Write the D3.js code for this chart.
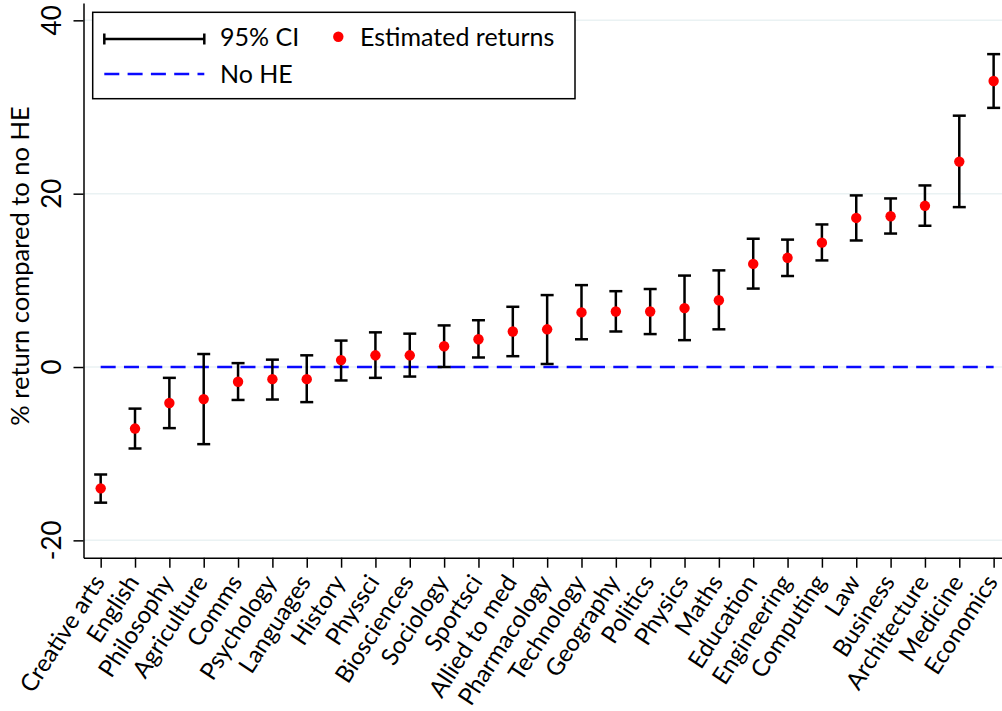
<!DOCTYPE html>
<html>
<head>
<meta charset="utf-8">
<script src="https://cdn.jsdelivr.net/npm/d3@7"></script>
<style>
  body { margin: 0; background: #fff; }
  text { font-family: Lato, "Open Sans", sans-serif; fill: #000; }
</style>
</head>
<body>
<div id="chart"></div>
<script>
var subjects = ["Creative arts", "English", "Philosophy", "Agriculture", "Comms", "Psychology",
  "Languages", "History", "Physsci", "Biosciences", "Sociology", "Sportsci", "Allied to med",
  "Pharmacology", "Technology", "Geography", "Politics", "Physics", "Maths", "Education",
  "Engineering", "Computing", "Law", "Business", "Architecture", "Medicine", "Economics"];

var estimates = [-14.0, -7.1, -4.15, -3.7, -1.7, -1.4, -1.4, 0.8, 1.35, 1.35, 2.4, 3.2, 4.1,
  4.35, 6.3, 6.4, 6.4, 6.8, 7.7, 11.9, 12.6, 14.35, 17.2, 17.4, 18.6, 23.7, 33.0];

var ciLow = [-15.65, -9.4, -7.05, -8.9, -3.8, -3.75, -4.05, -1.55, -1.25, -1.1, 0.0, 1.1, 1.25,
  0.35, 3.2, 4.1, 3.8, 3.1, 4.35, 9.05, 10.5, 12.3, 14.6, 15.4, 16.3, 18.45, 29.9];

var ciHigh = [-12.4, -4.8, -1.25, 1.5, 0.45, 0.85, 1.35, 3.05, 4.0, 3.85, 4.8, 5.4, 6.95,
  8.3, 9.45, 8.75, 9.0, 10.55, 11.15, 14.8, 14.7, 16.45, 19.8, 19.45, 20.95, 29.0, 36.1];

var yTicks = [-20, 0, 20, 40];

var width = 1002, height = 711;

var svg = d3.select("#chart").append("svg")
    .attr("width", width)
    .attr("height", height);

svg.append("rect").attr("width", width).attr("height", height).attr("fill", "#fff");

// category positions, half a step of padding on each side
var x = d3.scalePoint()
    .domain(subjects)
    .range([83.5, 1010.8])
    .padding(0.5);

var y = d3.scaleLinear()
    .domain([-22, 42])
    .range([557.7, 3]);

var plotLeft = 83.5;

// gridlines
svg.append("g")
  .selectAll("line")
  .data(yTicks)
  .enter().append("line")
    .attr("x1", plotLeft)
    .attr("x2", width)
    .attr("y1", function(d) { return y(d); })
    .attr("y2", function(d) { return y(d); })
    .attr("stroke", "#eaf2f3")
    .attr("stroke-width", 1.5);

// no HE reference line
svg.append("line")
    .attr("x1", x(subjects[0]))
    .attr("x2", x(subjects[subjects.length - 1]))
    .attr("y1", y(0))
    .attr("y2", y(0))
    .attr("stroke", "#0a0aff")
    .attr("stroke-width", 2.5)
    .attr("stroke-dasharray", "15,8.3");

// y axis
var yAxis = svg.append("g")
    .attr("transform", "translate(" + plotLeft + ",0)")
    .call(d3.axisLeft(y).tickValues(yTicks).tickSize(10).tickSizeOuter(0).tickFormat(""));
yAxis.select(".domain").attr("stroke", "#000").attr("stroke-width", 1.5);
yAxis.selectAll(".tick line").attr("stroke", "#000").attr("stroke-width", 1.5);

svg.append("g")
  .selectAll("text")
  .data(yTicks)
  .enter().append("text")
    .attr("transform", function(d) { return "translate(61," + y(d) + ") rotate(-90)"; })
    .attr("text-anchor", "middle")
    .style("font-size", "26px")
    .text(function(d) { return d; });

svg.append("text")
    .attr("transform", "translate(29,266) rotate(-90)")
    .attr("text-anchor", "middle")
    .style("font-size", "25.5px")
    .text("% return compared to no HE");

// x axis
var xAxis = svg.append("g")
    .attr("transform", "translate(0," + y(-22) + ")")
    .call(d3.axisBottom(x).tickSize(10).tickSizeOuter(0).tickFormat(""));
xAxis.select(".domain").attr("stroke", "#000").attr("stroke-width", 1.5);
xAxis.selectAll(".tick line").attr("stroke", "#000").attr("stroke-width", 1.5);

svg.append("g")
  .selectAll("text")
  .data(subjects)
  .enter().append("text")
    .attr("transform", function(d) { return "translate(" + (x(d) + 5) + ",582) rotate(-57)"; })
    .attr("text-anchor", "end")
    .style("font-size", "24px")
    .text(function(d) { return d; });

// error bars
var bars = svg.append("g")
  .selectAll("g")
  .data(subjects)
  .enter().append("g");

bars.append("line")
    .attr("x1", function(d) { return x(d); })
    .attr("x2", function(d) { return x(d); })
    .attr("y1", function(d, i) { return y(ciLow[i]); })
    .attr("y2", function(d, i) { return y(ciHigh[i]); })
    .attr("stroke", "#000")
    .attr("stroke-width", 2.5);

bars.append("line")
    .attr("x1", function(d) { return x(d) - 6.5; })
    .attr("x2", function(d) { return x(d) + 6.5; })
    .attr("y1", function(d, i) { return y(ciLow[i]); })
    .attr("y2", function(d, i) { return y(ciLow[i]); })
    .attr("stroke", "#000")
    .attr("stroke-width", 2.5);

bars.append("line")
    .attr("x1", function(d) { return x(d) - 6.5; })
    .attr("x2", function(d) { return x(d) + 6.5; })
    .attr("y1", function(d, i) { return y(ciHigh[i]); })
    .attr("y2", function(d, i) { return y(ciHigh[i]); })
    .attr("stroke", "#000")
    .attr("stroke-width", 2.5);

// points
svg.append("g")
  .selectAll("circle")
  .data(subjects)
  .enter().append("circle")
    .attr("cx", function(d) { return x(d); })
    .attr("cy", function(d, i) { return y(estimates[i]); })
    .attr("r", 5.2)
    .attr("fill", "#ff0000");

// legend
var legend = svg.append("g");

legend.append("rect")
    .attr("x", 92.7)
    .attr("y", 12.3)
    .attr("width", 482.3)
    .attr("height", 86.4)
    .attr("fill", "#fff")
    .attr("stroke", "#000")
    .attr("stroke-width", 1.5);

legend.append("line")
    .attr("x1", 104.3).attr("x2", 204.3)
    .attr("y1", 39).attr("y2", 39)
    .attr("stroke", "#000").attr("stroke-width", 2.5);
legend.append("line")
    .attr("x1", 104.3).attr("x2", 104.3)
    .attr("y1", 33.5).attr("y2", 44.5)
    .attr("stroke", "#000").attr("stroke-width", 2.5);
legend.append("line")
    .attr("x1", 204.3).attr("x2", 204.3)
    .attr("y1", 33.5).attr("y2", 44.5)
    .attr("stroke", "#000").attr("stroke-width", 2.5);

legend.append("text")
    .attr("x", 220).attr("y", 45.7)
    .style("font-size", "25px")
    .text("95% CI");

legend.append("circle")
    .attr("cx", 338.3).attr("cy", 36.7)
    .attr("r", 5.2)
    .attr("fill", "#ff0000");

legend.append("text")
    .attr("x", 360).attr("y", 45.7)
    .style("font-size", "25px")
    .text("Estimated returns");

legend.append("line")
    .attr("x1", 104.3).attr("x2", 204.3)
    .attr("y1", 74).attr("y2", 74)
    .attr("stroke", "#0a0aff")
    .attr("stroke-width", 2.5)
    .attr("stroke-dasharray", "15,8.3");

legend.append("text")
    .attr("x", 220).attr("y", 83.3)
    .style("font-size", "25px")
    .text("No HE");
</script>
</body>
</html>
